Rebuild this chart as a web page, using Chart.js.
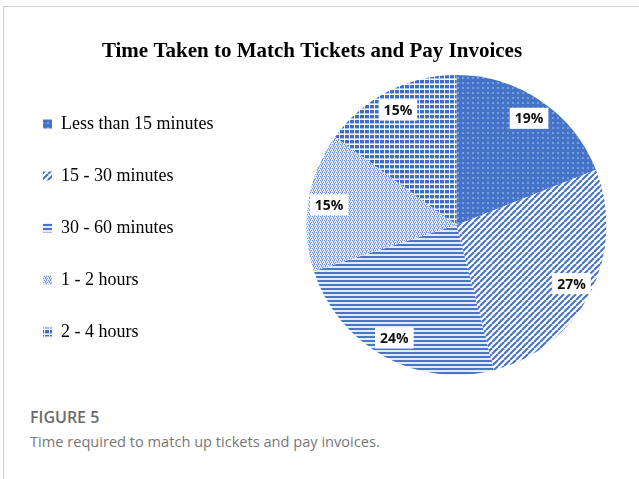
<!DOCTYPE html>
<html>
<head>
<meta charset="utf-8">
<script src="https://cdn.jsdelivr.net/npm/chart.js@4.4.1/dist/chart.umd.min.js"></script>
<style>
  html, body { margin: 0; padding: 0; background: #fff; }
  body { width: 639px; height: 479px; overflow: hidden; position: relative; }
  .frame {
    position: absolute; left: 3px; top: 6px; width: 700px; height: 500px;
    border-top: 1px solid #cfcfcf; border-left: 1px solid #cfcfcf;
  }
  .chart-box { position: absolute; left: 0; top: 0; width: 639px; height: 400px; }
  .fig-label {
    position: absolute; left: 30px; top: 408px;
    font: 600 16px "Open Sans", sans-serif; color: #6b6b6b; line-height: 19px;
  }
  .fig-caption {
    position: absolute; left: 30px; top: 432px;
    font: 400 14.6px "Open Sans", sans-serif; color: #777; line-height: 18px;
  }
</style>
</head>
<body>
<div class="frame"></div>
<div class="chart-box"><canvas id="time-chart"></canvas></div>
<div class="fig-label">FIGURE 5</div>
<div class="fig-caption">Time required to match up tickets and pay invoices.</div>

<script>
// data
const categories = ["Less than 15 minutes", "15 - 30 minutes", "30 - 60 minutes", "1 - 2 hours", "2 - 4 hours"];
const shares = [19, 27, 24, 15, 15];
const chartTitle = "Time Taken to Match Tickets and Pay Invoices";

const BLUE = "#4472c4";

// small tiles for the hatch fills
function makePattern(w, h, paint) {
  const c = document.createElement("canvas");
  c.width = w;
  c.height = h;
  const g = c.getContext("2d");
  paint(g, w, h);
  return g.createPattern(c, "repeat");
}

const patterns = [
  // dots on solid blue
  makePattern(5, 5, (g, w, h) => {
    g.fillStyle = "#4473c8";
    g.fillRect(0, 0, w, h);
    g.fillStyle = "#7a9ddf";
    g.fillRect(2, 2, 2, 2);
  }),
  // diagonal stripes
  makePattern(6, 6, (g, w, h) => {
    g.fillStyle = "#fff";
    g.fillRect(0, 0, w, h);
    g.strokeStyle = BLUE;
    g.lineWidth = 2;
    for (const o of [-w, 0, w]) {
      g.beginPath();
      g.moveTo(o, h);
      g.lineTo(o + w, 0);
      g.stroke();
    }
  }),
  // horizontal lines
  makePattern(4, 4, (g, w, h) => {
    g.fillStyle = "#e3eaf7";
    g.fillRect(0, 0, w, h);
    g.fillStyle = "#4a76c8";
    g.fillRect(0, 0, w, 2);
  }),
  // fine speckle
  makePattern(4, 4, (g, w, h) => {
    g.fillStyle = "#e2e9f7";
    g.fillRect(0, 0, w, h);
    g.fillStyle = "#6e91d3";
    [[0, 0], [2, 0], [1, 1], [3, 2], [1, 2], [2, 3]].forEach(([x, y]) => g.fillRect(x, y, 1, 1));
  }),
  // blocky grid
  makePattern(5, 5, (g, w, h) => {
    g.fillStyle = "#f4f7fd";
    g.fillRect(0, 0, w, h);
    g.fillStyle = "#a9bfe8";
    g.fillRect(0, 3, 4, 1);
    g.fillStyle = "#3f6dc4";
    g.fillRect(0, 0, 4, 3);
  }),
];

// legend is given a fixed width so the pie sits where it does in the figure
const LEGEND_WIDTH = 289;
const legendWidthPlugin = {
  id: "legendWidth",
  beforeLayout(chart) {
    const legend = chart.legend;
    if (legend && !legend._fixedWidth) {
      const fit = legend.fit.bind(legend);
      legend.fit = function () {
        fit();
        this.width = LEGEND_WIDTH;
      };
      legend._fixedWidth = true;
    }
  },
};

// white boxed percentage labels
const pctLabelPlugin = {
  id: "pctLabels",
  afterDatasetsDraw(chart) {
    const { ctx } = chart;
    const meta = chart.getDatasetMeta(0);
    ctx.save();
    ctx.font = "bold 14px 'Open Sans', sans-serif";
    ctx.textAlign = "center";
    ctx.textBaseline = "middle";
    meta.data.forEach((arc, i) => {
      const { x, y, startAngle, endAngle, outerRadius } = arc.getProps(["x", "y", "startAngle", "endAngle", "outerRadius"], true);
      const mid = (startAngle + endAngle) / 2;
      const r = outerRadius * 0.86;
      const px = x + Math.cos(mid) * r;
      const py = y + Math.sin(mid) * r;
      const text = shares[i] + "%";
      const tw = ctx.measureText(text).width;
      ctx.fillStyle = "#fff";
      ctx.fillRect(px - tw / 2 - 5, py - 10.5, tw + 10, 21);
      ctx.fillStyle = "#111";
      ctx.fillText(text, px, py + 1);
    });
    ctx.restore();
  },
};

const timeChart = new Chart(document.getElementById("time-chart"), {
  type: "pie",
  data: {
    labels: categories,
    datasets: [
      {
        data: shares,
        backgroundColor: patterns,
        borderWidth: 0,
      },
    ],
  },
  options: {
    responsive: true,
    maintainAspectRatio: false,
    animation: false,
    layout: {
      padding: { left: 9, right: 24, top: 18, bottom: 25 },
    },
    plugins: {
      title: {
        display: true,
        text: chartTitle,
        color: "#000",
        font: { family: "'Liberation Serif', serif", size: 21, weight: "bold" },
        padding: { top: 20.5, bottom: 11.3 },
      },
      legend: {
        position: "left",
        align: "end",
        labels: {
          boxWidth: 9,
          boxHeight: 9,
          padding: 34,
          color: "#000",
          font: { family: "'Liberation Serif', serif", size: 18 },
          generateLabels(chart) {
            const items = Chart.overrides.pie.plugins.legend.labels.generateLabels(chart);
            return items.map((it) => ({ ...it, lineWidth: 0 }));
          },
        },
      },
      tooltip: { enabled: false },
    },
  },
  plugins: [legendWidthPlugin, pctLabelPlugin],
});
</script>
</body>
</html>
